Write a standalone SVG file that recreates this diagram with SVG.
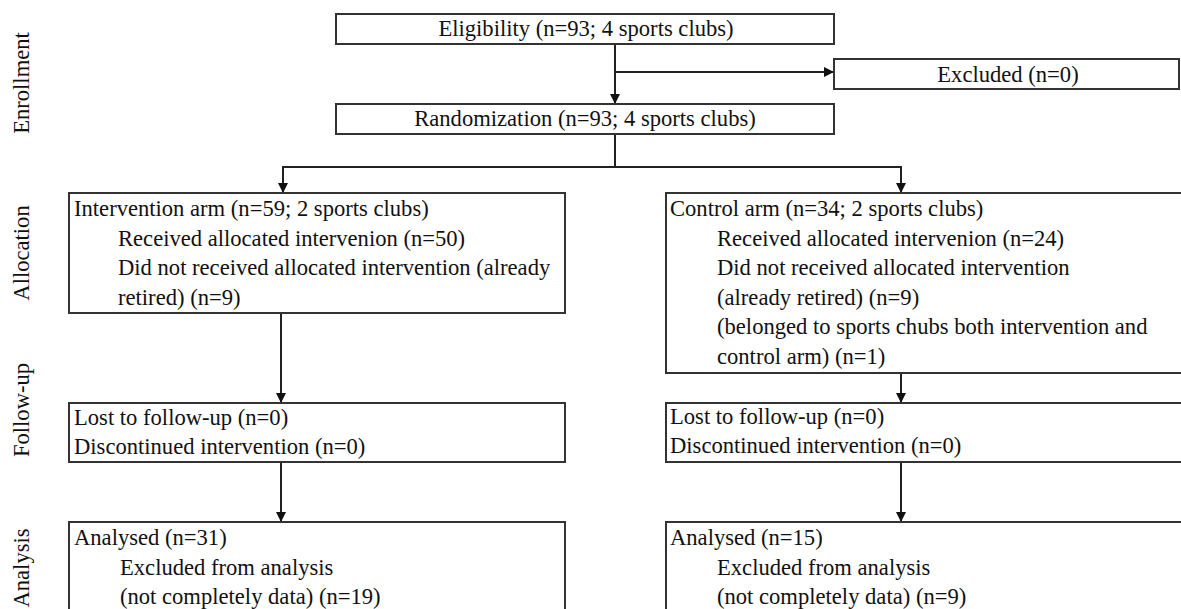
<svg xmlns="http://www.w3.org/2000/svg" width="1181" height="609" viewBox="0 0 1181 609">
<style>
  .box { fill: #ffffff; stroke: #333333; stroke-width: 2; }
  .ln { fill: none; stroke: #222222; stroke-width: 2; }
  .t { font-family: "Liberation Serif", "Times New Roman", serif; font-size: 22.6px; fill: #111111; }
  .lab { font-family: "Liberation Serif", "Times New Roman", serif; font-size: 22.6px; fill: #111111; text-anchor: middle; }
  .c { text-anchor: middle; }
</style>
<defs>
  <marker id="arr" viewBox="0 0 10 10" refX="10" refY="5" markerWidth="10" markerHeight="11" markerUnits="userSpaceOnUse" orient="auto">
    <path d="M0,0 L10,5 L0,10 z" fill="#111111"/>
  </marker>
</defs>
<rect width="1181" height="609" fill="#ffffff"/>

<g id="stage-labels">
  <text class="lab" transform="translate(29,83) rotate(-90)">Enrollment</text>
  <text class="lab" transform="translate(29,253) rotate(-90)">Allocation</text>
  <text class="lab" transform="translate(29,410) rotate(-90)">Follow-up</text>
  <text class="lab" transform="translate(29,568) rotate(-90)">Analysis</text>
</g>

<g id="connectors">
  <path class="ln" d="M615,44 V104" marker-end="url(#arr)"/>
  <path class="ln" d="M616,72 H834" marker-end="url(#arr)"/>
  <path class="ln" d="M615,134 V167"/>
  <path class="ln" d="M282,167 H902"/>
  <path class="ln" d="M283,166 V193" marker-end="url(#arr)"/>
  <path class="ln" d="M901,166 V193" marker-end="url(#arr)"/>
  <path class="ln" d="M281,313 V403" marker-end="url(#arr)"/>
  <path class="ln" d="M901,373 V403" marker-end="url(#arr)"/>
  <path class="ln" d="M281,462 V522" marker-end="url(#arr)"/>
  <path class="ln" d="M901,462 V522" marker-end="url(#arr)"/>
</g>

<g id="eligibility">
  <rect class="box" x="336" y="14" width="498" height="30"/>
  <text class="t c" x="586" y="36">Eligibility (n=93; 4 sports clubs)</text>
</g>

<g id="excluded">
  <rect class="box" x="834" y="59" width="345" height="30"/>
  <text class="t c" x="1008" y="82">Excluded (n=0)</text>
</g>

<g id="randomization">
  <rect class="box" x="336" y="104" width="498" height="30"/>
  <text class="t c" x="585" y="126">Randomization (n=93; 4 sports clubs)</text>
</g>

<g id="intervention-arm">
  <rect class="box" x="69" y="193" width="496" height="120"/>
  <text class="t" x="74" y="216">Intervention arm (n=59; 2 sports clubs)</text>
  <text class="t" x="118" y="245.5">Received allocated intervenion (n=50)</text>
  <text class="t" x="118" y="275">Did not received allocated intervention (already</text>
  <text class="t" x="118" y="304.5">retired) (n=9)</text>
</g>

<g id="control-arm">
  <rect class="box" x="666" y="193" width="530" height="180"/>
  <text class="t" x="670" y="216">Control arm (n=34; 2 sports clubs)</text>
  <text class="t" x="717" y="245.5">Received allocated intervenion (n=24)</text>
  <text class="t" x="717" y="275">Did not received allocated intervention</text>
  <text class="t" x="717" y="304.5">(already retired) (n=9)</text>
  <text class="t" x="717" y="334">(belonged to sports chubs both intervention and</text>
  <text class="t" x="717" y="363.5">control arm) (n=1)</text>
</g>

<g id="intervention-followup">
  <rect class="box" x="69" y="403" width="496" height="59"/>
  <text class="t" x="74" y="425">Lost to follow-up (n=0)</text>
  <text class="t" x="74" y="454">Discontinued intervention (n=0)</text>
</g>

<g id="control-followup">
  <rect class="box" x="666" y="403" width="530" height="59"/>
  <text class="t" x="670" y="424">Lost to follow-up (n=0)</text>
  <text class="t" x="670" y="453">Discontinued intervention (n=0)</text>
</g>

<g id="intervention-analysis">
  <rect class="box" x="69" y="522" width="496" height="100"/>
  <text class="t" x="74" y="545">Analysed (n=31)</text>
  <text class="t" x="120" y="575">Excluded from analysis</text>
  <text class="t" x="120" y="604">(not completely data) (n=19)</text>
</g>

<g id="control-analysis">
  <rect class="box" x="666" y="522" width="530" height="100"/>
  <text class="t" x="670" y="545">Analysed (n=15)</text>
  <text class="t" x="717" y="575">Excluded from analysis</text>
  <text class="t" x="717" y="604">(not completely data) (n=9)</text>
</g>
</svg>
